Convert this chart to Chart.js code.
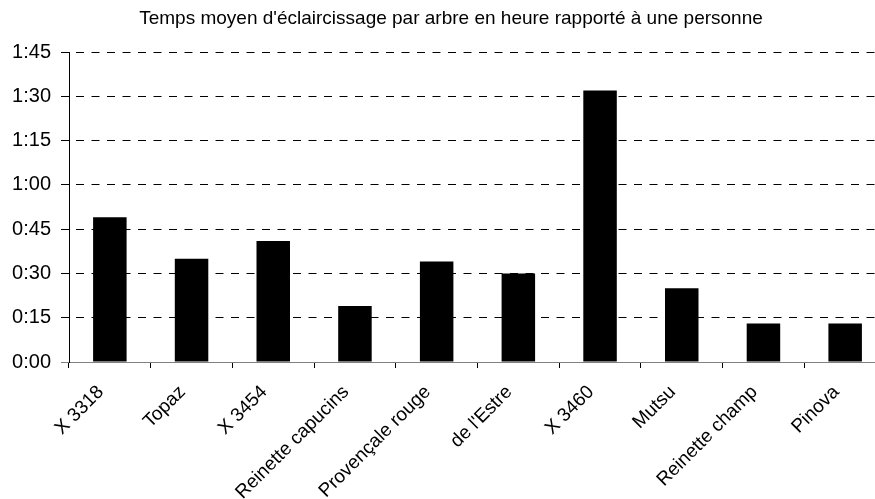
<!DOCTYPE html>
<html>
<head>
<meta charset="utf-8">
<script src="https://cdn.jsdelivr.net/npm/chart.js@4/dist/chart.umd.min.js"></script>
<style>
html, body { margin: 0; padding: 0; background: #fff; overflow: hidden; }
#wrap { position: relative; width: 902px; height: 499px; }
</style>
</head>
<body>
<div id="wrap"><canvas id="c"></canvas></div>
<script>
const categories = ['X 3318', 'Topaz', 'X 3454', 'Reinette capucins', 'Provençale rouge', "de l'Estre", 'X 3460', 'Mutsu', 'Reinette champ', 'Pinova'];
// average time in minutes
const minutes = [49, 35, 41, 19, 34, 30, 92, 25, 13, 13];
const yTickLabels = ['0:00', '0:15', '0:30', '0:45', '1:00', '1:15', '1:30', '1:45'];
const titleText = "Temps moyen d'éclaircissage par arbre en heure rapporté à une personne";

const FONT = "'Liberation Sans', Arial, sans-serif";

new Chart(document.getElementById('c'), {
  type: 'bar',
  data: {
    labels: categories,
    datasets: [{
      data: minutes,
      backgroundColor: '#000',
      borderWidth: 0,
      barPercentage: 0.41,
      categoryPercentage: 1,
      yAxisID: 'y'
    }]
  },
  options: {
    responsive: true,
    maintainAspectRatio: false,
    animation: false,
    layout: { padding: 0 },
    plugins: {
      legend: { display: false },
      tooltip: { enabled: false },
      title: {
        display: true,
        text: titleText,
        color: '#000',
        font: { family: FONT, size: 19, weight: 'normal', lineHeight: 1.2 },
        padding: { top: 7, bottom: 22.2 }
      }
    },
    scales: {
      x: {
        offset: true,
        grid: {
          display: true,
          drawOnChartArea: false,
          drawTicks: true,
          tickLength: 6,
          tickColor: '#000',
          offset: true
        },
        border: { display: true, color: '#808080', width: 1 },
        ticks: {
          color: '#000',
          font: { family: FONT, size: 19 },
          maxRotation: 45,
          minRotation: 45,
          autoSkip: false,
          padding: 13,
          labelOffset: -9
        },
        afterFit: (s) => { s.height = 137; }
      },
      y: {
        position: 'left',
        min: 0,
        max: 105,
        grid: {
          color: '#000',
          lineWidth: 1,
          tickBorderDash: [],
          tickLength: 8,
          tickColor: (ctx) => ctx.index === 0 ? '#808080' : '#000'
        },
        border: { display: true, color: '#000', width: 1, dash: [8, 7.5], dashOffset: 9.5 },
        ticks: {
          stepSize: 15,
          color: '#000',
          font: { family: FONT, size: 20 },
          padding: 10,
          callback: (v) => yTickLabels[Math.round(v / 15)]
        },
        afterFit: (s) => { s.width = 69; }
      },
      yRightSpacer: {
        position: 'right',
        min: 0,
        max: 1,
        grid: { display: false, drawTicks: false },
        border: { display: false },
        ticks: { display: false },
        afterFit: (s) => { s.width = 16; }
      }
    }
  }
});
</script>
</body>
</html>
